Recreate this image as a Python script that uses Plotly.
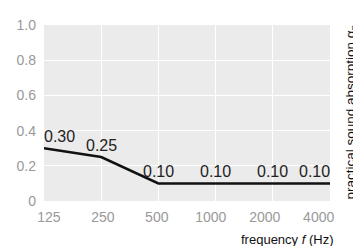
import plotly.graph_objects as go

frequencies = ["125", "250", "500", "1000", "2000", "4000"]
absorption = [0.30, 0.25, 0.10, 0.10, 0.10, 0.10]
value_labels = ["0.30", "0.25", "0.10", "0.10", "0.10", "0.10"]
y_ticks = [0, 0.2, 0.4, 0.6, 0.8, 1.0]
y_tick_labels = ["0", "0.2", "0.4", "0.6", "0.8", "1.0"]

idx = list(range(len(frequencies)))
n = len(frequencies)

FONT = "Liberation Sans, Arial, sans-serif"
TICK_GRAY = "#999999"

fig = go.Figure()
fig.add_trace(go.Scatter(
    x=idx, y=absorption, mode="lines",
    line=dict(color="#111111", width=2.5),
    hoverinfo="skip", showlegend=False,
))
# invisible trace on label axis
fig.add_trace(go.Scatter(
    x=idx, y=absorption, mode="markers", xaxis="x2",
    marker=dict(size=1, opacity=0), hoverinfo="skip", showlegend=False,
))

# value labels
for i, (v, lab) in enumerate(zip(absorption, value_labels)):
    if i == 0:
        xa, xs = "left", -2
    elif i == n - 1:
        xa, xs = "right", 2
    else:
        xa, xs = "center", 0
    fig.add_annotation(
        x=i, y=v, xref="x", yref="y", text=lab, showarrow=False,
        xanchor=xa, yanchor="bottom", xshift=xs, yshift=1,
        font=dict(family=FONT, size=16, color="#222222"),
    )

# page body has an 8px margin; compensate in figure size and margins
fig.update_layout(
    width=353, height=238,
    margin=dict(l=30, r=31, t=9, b=45),
    paper_bgcolor="white", plot_bgcolor="#ebebeb",
    font=dict(family=FONT, size=14, color=TICK_GRAY),
    xaxis=dict(
        range=[0, n - 1], tickvals=idx, showticklabels=False,
        showgrid=True, gridcolor="white", gridwidth=1.2,
        zeroline=False, showline=False, ticks="",
    ),
    xaxis2=dict(
        overlaying="x", anchor="y", side="bottom",
        range=[-0.09, n - 1 + 0.21], tickvals=idx, ticktext=frequencies,
        showgrid=False, zeroline=False, showline=False, ticks="",
        tickfont=dict(family=FONT, size=14, color=TICK_GRAY),
        ticklabelstandoff=6,
    ),
    yaxis=dict(
        range=[0, 1], tickvals=y_ticks, ticktext=y_tick_labels,
        showgrid=True, gridcolor="white", gridwidth=1.2,
        zeroline=False, showline=False, ticks="",
        tickfont=dict(family=FONT, size=14, color=TICK_GRAY),
        ticklabelstandoff=7,
    ),
)
fig.add_annotation(
    text="frequency <i>f</i> (Hz)", xref="paper", yref="paper",
    x=1, y=0, xanchor="right", yanchor="top", xshift=6, yshift=-29,
    showarrow=False, font=dict(family=FONT, size=13, color="#111111"),
)
fig.add_annotation(
    text="practical sound absorption α<sub>p</sub>", xref="paper", yref="paper",
    x=1, y=0.5, xanchor="left", yanchor="middle", xshift=10,
    textangle=-90, showarrow=False,
    font=dict(family=FONT, size=13.5, color="#111111"),
)

fig.write_html("out.html")
